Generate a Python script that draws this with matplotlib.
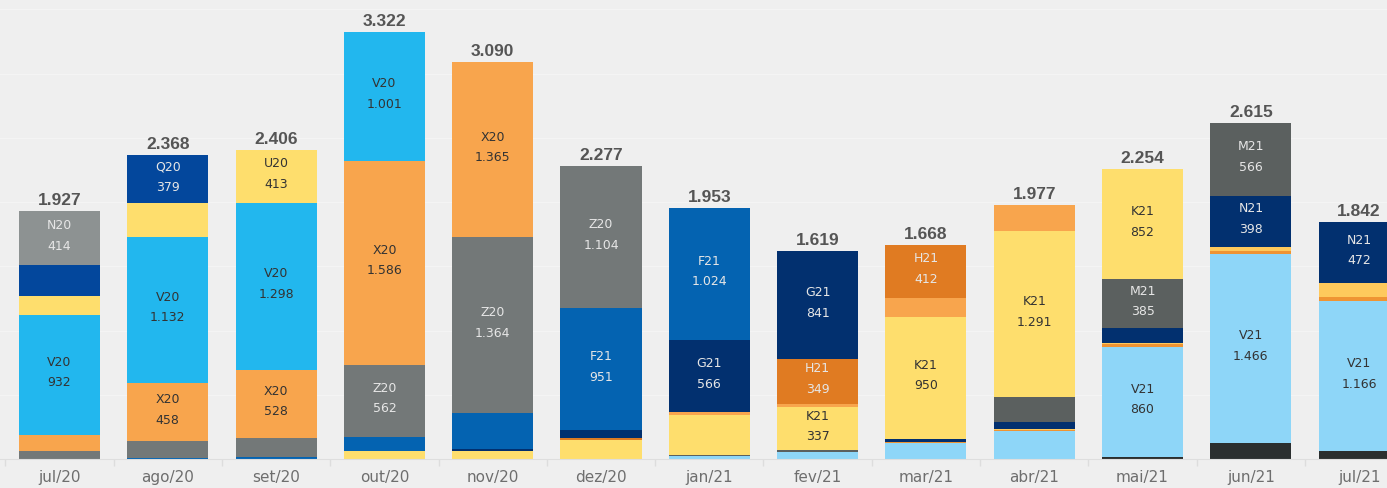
import numpy as np
import matplotlib.pyplot as plt

# meses
months = ["jul/20", "ago/20", "set/20", "out/20", "nov/20", "dez/20", "jan/21",
          "fev/21", "mar/21", "abr/21", "mai/21", "jun/21", "jul/21"]
totals = [1927, 2368, 2406, 3322, 3090, 2277, 1953, 1619, 1668, 1977, 2254, 2615, 1842]

# contratos, empilhados de baixo (vencimento mais longo) para cima
X21 = [0, 0, 0, 0, 0, 0, 0, 0, 0, 0, 14, 128, 60]
V21 = [0, 0, 0, 0, 0, 0, 20, 58, 126, 220, 860, 1466, 1166]
U21 = [0, 0, 0, 0, 0, 0, 0, 0, 10, 6, 18, 24, 31]
Q21 = [0, 0, 0, 0, 0, 0, 0, 0, 0, 8, 12, 33, 113]
N21 = [0, 0, 0, 0, 0, 0, 0, 0, 20, 55, 113, 398, 472]
M21 = [0, 0, 0, 0, 0, 0, 14, 11, 0, 193, 385, 566, 0]
K21 = [0, 0, 0, 60, 60, 150, 305, 337, 950, 1291, 852, 0, 0]
J21 = [0, 0, 0, 0, 0, 0, 24, 23, 150, 204, 0, 0, 0]
H21 = [0, 0, 0, 0, 0, 16, 0, 349, 412, 0, 0, 0, 0]
G21 = [0, 0, 0, 0, 20, 56, 566, 841, 0, 0, 0, 0, 0]
F21 = [0, 8, 14, 113, 281, 951, 1024, 0, 0, 0, 0, 0, 0]
Z20 = [60, 129, 153, 562, 1364, 1104, 0, 0, 0, 0, 0, 0, 0]
X20 = [130, 458, 528, 1586, 1365, 0, 0, 0, 0, 0, 0, 0, 0]
V20 = [932, 1132, 1298, 1001, 0, 0, 0, 0, 0, 0, 0, 0, 0]
U20 = [147, 262, 413, 0, 0, 0, 0, 0, 0, 0, 0, 0, 0]
Q20 = [244, 379, 0, 0, 0, 0, 0, 0, 0, 0, 0, 0, 0]
N20 = [414, 0, 0, 0, 0, 0, 0, 0, 0, 0, 0, 0, 0]

stack = [("X21", X21, "#2b2f2f"), ("V21", V21, "#8ed6f8"), ("U21", U21, "#ef9433"),
         ("Q21", Q21, "#fec95c"), ("N21", N21, "#02306f"), ("M21", M21, "#5b605f"),
         ("K21", K21, "#fede6d"), ("J21", J21, "#f8a54d"), ("H21", H21, "#e07b22"),
         ("G21", G21, "#02306f"), ("F21", F21, "#0463b1"), ("Z20", Z20, "#737878"),
         ("X20", X20, "#f8a54d"), ("V20", V20, "#22b7ee"), ("U20", U20, "#fede6d"),
         ("Q20", Q20, "#03479c"), ("N20", N20, "#8d9292")]
light_text = {"X21", "N21", "M21", "H21", "G21", "F21", "Z20", "Q20", "N20"}


def fmt(v):
    return "{:,}".format(v).replace(",", ".")


bg = "#efefef"
fig = plt.figure(figsize=(13.87, 4.89), dpi=100, facecolor=bg)
ax = fig.add_axes([0, 29 / 489, 1, 460 / 489], facecolor=bg)

x = np.arange(len(months))
w = 0.748
bottom = np.zeros(len(months))
for name, vals, col in stack:
    vals = np.array(vals, dtype=float)
    ax.bar(x, vals, w, bottom=bottom, color=col, linewidth=0, zorder=2)
    for i, v in enumerate(vals):
        if v >= 330:
            tc = "#e6e6e6" if name in light_text else "#333333"
            ax.text(x[i], bottom[i] + v / 2 + 25, name + "\n" + fmt(int(v)),
                    ha="center", va="center", fontsize=9, color=tc,
                    linespacing=1.75, family="DejaVu Sans", zorder=3)
    bottom += vals

for i, t in enumerate(totals):
    ax.annotate(fmt(t), (x[i], bottom[i]), xytext=(0, 3), textcoords="offset points",
                ha="center", va="bottom", fontsize=12.5, fontweight="bold",
                color="#555555", family="Liberation Sans", zorder=3)

ax.set_yticks(np.arange(500, 3600, 500))
ax.yaxis.grid(True, color="#f4f4f4", linewidth=1, zorder=0)
ax.set_yticklabels([])
ax.tick_params(axis="y", length=0)

ax.set_xticks(x)
ax.set_xticklabels(months, fontsize=11, color="#6e6e6e", family="DejaVu Sans")
ax.set_xticks(np.arange(-0.5, 13, 1), minor=True)
ax.tick_params(axis="x", which="major", length=0, pad=7)
ax.tick_params(axis="x", which="minor", length=5, color="#dddddd", width=1)

# limites depois dos ticks (set_xticks expande a vista)
ax.set_xlim(-0.549, 12.257)
ax.set_ylim(0, 3580)

for s in ["top", "right", "left"]:
    ax.spines[s].set_visible(False)
ax.spines["bottom"].set_color("#dedede")

fig.savefig("out.png", dpi=100, facecolor=bg)
